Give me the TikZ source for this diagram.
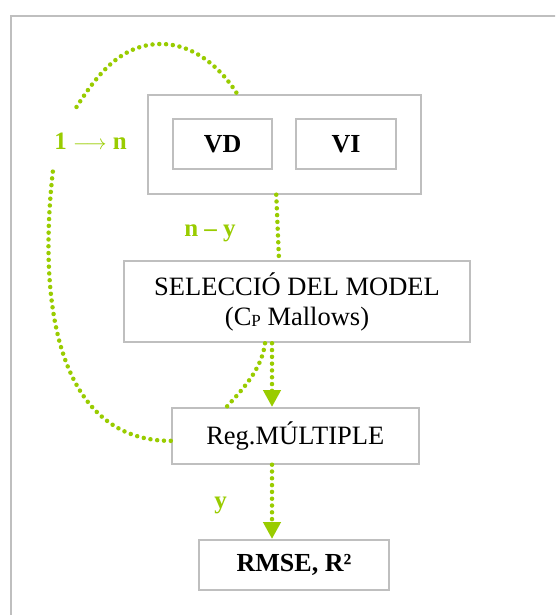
\documentclass[tikz,border=0pt]{standalone}
\usepackage{fontspec}
\setmainfont{Liberation Serif}
\usetikzlibrary{arrows.meta,calc}
\definecolor{lime}{HTML}{99CC00}
\definecolor{framegray}{HTML}{BFBFBF}
\begin{document}
\begin{tikzpicture}[x=1pt,y=-1pt,
  box/.style={draw=framegray,line width=2pt,inner sep=0pt,fill=white,text=black,
    font=\fontsize{26.5}{30}\selectfont},
  boldbox/.style={box,font=\fontsize{26}{30}\selectfont\bfseries},
  flow/.style={draw=lime,line width=4.5pt,line cap=round,dash pattern=on 0pt off 6.8pt},
  flowtip/.style={-{Triangle[width=17pt,length=17pt,color=lime,fill=lime]}},
  lbl/.style={text=lime,anchor=base,font=\fontsize{25}{28}\selectfont\bfseries}]
\useasboundingbox (0,0) rectangle (555,615);
\clip (0,0) rectangle (555,615);
\fill[white] (0,0) rectangle (555,615);
% outer frame, running off the page
\draw[framegray,line width=2pt] (10.6,700) -- (10.6,16) -- (700,16);

% data container with its two variable boxes
\node[box,minimum width=272.5pt,minimum height=98.7pt] (data) at (284.25,144.35) {};
\node[boldbox,minimum width=99.2pt,minimum height=50pt] (vd) at (222.6,144) {VD};
\node[boldbox,minimum width=99.5pt,minimum height=50pt] (vi) at (346,144) {VI};

% process steps
\node[box,align=center,minimum width=346pt,minimum height=81.3pt] (sel) at (297,301.6)
  {SELECCIÓ DEL MODEL\\(C\raisebox{-1pt}{\fontsize{17}{17}\selectfont P} Mallows)};
\node[box,minimum width=247pt,minimum height=55.7pt] (reg) at (295.25,435.85) {Reg.MÚLTIPLE};
\node[boldbox,minimum width=190pt,minimum height=50pt] (rmse) at (294,565) {RMSE, R²};

% labels
\node[lbl] (lloop) at (90.5,149) {1 {\fontsize{20}{20}\selectfont$\longrightarrow$} n};
\node[lbl] (lsel) at (210,236) {n – y};
\node[lbl] (lres) at (220.7,508) {y};

% connectors
\coordinate (ax) at (272,0);
\coordinate (loopL) at (53,170);
\coordinate (loopT) at (76.5,107);
\coordinate (loopTop) at (161,44);

\draw[flow] ([xshift=-8pt]data.south) -- ([xshift=-18pt]sel.north);
\draw[flow,flowtip] (sel.south -| ax) -- (reg.north -| ax);
\draw[flow] ([xshift=-32pt]sel.south) .. controls (262,370) and (240,392) .. ([xshift=-68.75pt]reg.north);
\draw[flow,flowtip] (reg.south -| ax) -- (rmse.north -| ax);

% iteration loop back to the data
\draw[flow] ([yshift=-5pt]reg.west) .. controls (70,441) and (35,330) .. (loopL);
\draw[flow] (loopT) .. controls (96.5,76) and (120,44) .. (loopTop)
  .. controls (196,44) and (223,71) .. ([xshift=-47pt]data.north);
\end{tikzpicture}
\end{document}
